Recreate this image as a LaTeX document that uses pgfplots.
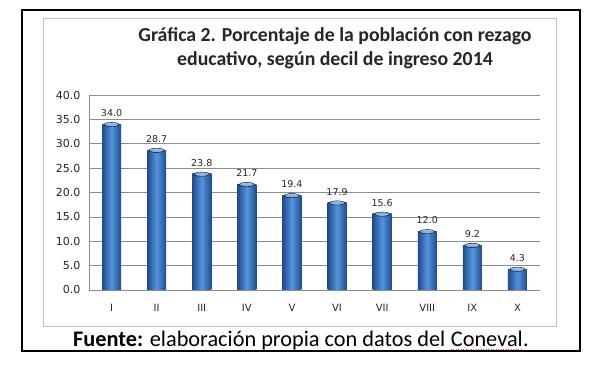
\documentclass[border=0pt]{standalone}
\usepackage{pgfplots}
\pgfplotsset{compat=1.18}
\usepackage{fontspec}
\setmainfont{Carlito}
\newfontfamily\dejavu{DejaVu Sans}
\definecolor{barDark}{HTML}{1E4C8C}
\definecolor{barLight}{HTML}{5694DE}
\definecolor{capc}{HTML}{8DBCF0}
\definecolor{gridc}{HTML}{8C8C8C}
\definecolor{boxc}{HTML}{BFBFBF}
\definecolor{txt}{HTML}{262626}
\pgfplotsset{
  mybar/.style={ybar, bar width=19pt, bar shift=0pt, draw=none, fill=barDark,
    left color=barDark, right color=barDark, middle color=barLight,
    nodes near coords,
    nodes near coords style={font=\dejavu\fontsize{9.5}{11}\selectfont, text=txt, anchor=south, yshift=4pt,
      /pgf/number format/.cd, fixed, fixed zerofill, precision=1, assume math mode=true}},
}
\begin{document}
\begin{tikzpicture}[x=1pt,y=1pt]
\path[use as bounding box, fill=white] (0,0) rectangle (595,377);
\draw[boxc, line width=0.8pt] (43,51) rectangle (556,359);
\draw[black, line width=2pt] (22,26) rectangle (580,367);
\begin{axis}[
  at={(89pt,87pt)}, anchor=south west,
  scale only axis, width=451pt, height=195pt,
  xmin=-0.5, xmax=9.5, ymin=0, ymax=40,
  ytick={0,5,...,40},
  xtick={0,...,9},
  xticklabels={I,II,III,IV,V,VI,VII,VIII,IX,X},
  axis x line*=bottom, axis y line*=left,
  axis line style={gridc, line width=0.6pt},
  major tick length=0pt,
  ymajorgrids, major grid style={gridc, line width=0.6pt},
  /pgf/number format/.cd, fixed, fixed zerofill, precision=1, assume math mode=true,
  /pgfplots/.cd,
  yticklabel style={font=\dejavu\fontsize{11}{12}\selectfont, text=txt, xshift=-5pt},
  xticklabel style={font=\dejavu\fontsize{10}{12}\selectfont, text=txt, yshift=-11pt},
  clip=false,
]
\addplot[mybar] coordinates {(0,34.0)};
\addplot[mybar] coordinates {(1,28.7)};
\addplot[mybar] coordinates {(2,23.8)};
\addplot[mybar] coordinates {(3,21.7)};
\addplot[mybar] coordinates {(4,19.4)};
\addplot[mybar] coordinates {(5,17.9)};
\addplot[mybar] coordinates {(6,15.6)};
\addplot[mybar] coordinates {(7,12.0)};
\addplot[mybar] coordinates {(8,9.2)};
\addplot[mybar] coordinates {(9,4.3)};
\addplot[only marks, mark=*, mark size=7.5pt,
  mark options={yscale=0.28, draw=none, fill=capc, fill opacity=0.85, yshift=-0.8pt}]
  coordinates {(0,34.0) (1,28.7) (2,23.8) (3,21.7) (4,19.4) (5,17.9) (6,15.6) (7,12.0) (8,9.2) (9,4.3)};
\end{axis}
\node[align=center, font=\bfseries\fontsize{19.8}{24}\selectfont, text=txt] at (335,329)
  {Gráfica 2. Porcentaje de la población con rezago\\ educativo, según decil de ingreso 2014};
\node[font=\fontsize{22.3}{24}\selectfont, anchor=base, text=black, inner sep=0pt] at (301,30)
  {\textbf{Fuente:} elaboración propia con datos del \tikz[baseline=(cv.base)]{\node[inner sep=0pt](cv){Coneval};\draw[red!75, dotted, line width=0.5pt] ([yshift=-2.5pt]cv.base west) -- ([yshift=-2.5pt]cv.base east);}.};
\end{tikzpicture}
\end{document}
